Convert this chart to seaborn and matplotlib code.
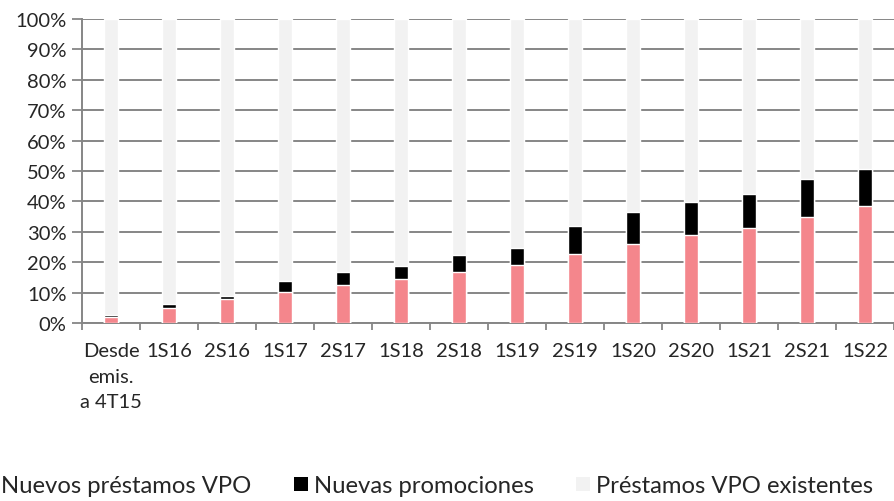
import matplotlib.pyplot as plt
import pandas as pd
import seaborn as sns
from matplotlib.patches import Patch

# Chart data (percent of total)
periods = ['Desde\nemis.\na 4T15', '1S16', '2S16', '1S17', '2S17', '1S18', '2S18',
           '1S19', '2S19', '1S20', '2S20', '1S21', '2S21', '1S22']
nuevos_prestamos = [1.9, 5.0, 7.8, 10.2, 12.5, 14.4, 16.7, 19.2, 22.7, 25.9, 28.9, 31.3, 35.0, 38.5]
nuevas_promociones = [0.8, 1.1, 1.1, 3.6, 4.2, 4.4, 5.6, 5.6, 9.2, 10.7, 11.0, 11.1, 12.3, 12.3]
existentes = [100 - a - b for a, b in zip(nuevos_prestamos, nuevas_promociones)]

labels = ['Nuevos préstamos VPO', 'Nuevas promociones', 'Préstamos VPO existentes']
colors = ['#F4868C', '#000000', '#F2F2F2']

df = pd.DataFrame({
    'periodo': periods,
    'nuevos': nuevos_prestamos,
    'promo': nuevas_promociones,
    'exist': existentes,
})
df['top2'] = df['nuevos'] + df['promo']
df['total'] = df['top2'] + df['exist']

sns.set_style('white')
plt.rcParams['font.family'] = ['Lato', 'DejaVu Sans']

fig = plt.figure(figsize=(8.94, 5.02), dpi=100)
ax = fig.add_axes([82 / 894, 1 - 324 / 502, 812 / 894, 304 / 502])

# stacked bars drawn back to front as cumulative totals
sns.barplot(data=df, x='periodo', y='total', color=colors[2], width=0.25,
            saturation=1, ax=ax, zorder=3)
sns.barplot(data=df, x='periodo', y='top2', color=colors[1], width=0.25,
            saturation=1, ax=ax, zorder=3)
sns.barplot(data=df, x='periodo', y='nuevos', color=colors[0], width=0.25,
            saturation=1, ax=ax, zorder=3)

ax.set_xlim(-0.5, len(periods) - 0.5)
ax.set_ylim(0, 100)
ax.set_yticks(range(0, 101, 10))
ax.set_yticklabels([f'{v}%' for v in range(0, 101, 10)], fontsize=14.5)
ax.yaxis.grid(True, color='#868686', linewidth=1.4, zorder=0)
ax.set_axisbelow(True)

# x ticks at category boundaries, labels centred on bars
ax.set_xticks([i - 0.5 for i in range(len(periods) + 1)])
ax.set_xticklabels([])
ax.set_xticks(range(len(periods)), minor=True)
ax.set_xticklabels(periods, minor=True, fontsize=14.5, linespacing=1.6, va='top')
ax.tick_params(axis='x', which='major', length=5, width=1.3, color='#868686',
               direction='out', bottom=True)
ax.tick_params(axis='x', which='minor', length=0, pad=14)
ax.tick_params(axis='y', length=7, width=1.3, color='#868686', direction='out',
               left=True, pad=4)
ax.set_xlabel('')
ax.set_ylabel('')

for side in ['top', 'right']:
    ax.spines[side].set_visible(False)
for side in ['left', 'bottom']:
    ax.spines[side].set_color('#868686')
    ax.spines[side].set_linewidth(1.4)

# legend: first marker falls just off the left edge, as in the reference
handles = [Patch(facecolor=c, edgecolor='none') for c in colors]
fig.legend(handles, labels, loc='center left', bbox_to_anchor=(-0.02, 0.03),
           ncol=3, frameon=False, fontsize=17.2, handlelength=0.55,
           handleheight=0.55, handletextpad=0.25, columnspacing=1.8,
           borderaxespad=0, borderpad=0)

fig.savefig('out.png', dpi=100)
